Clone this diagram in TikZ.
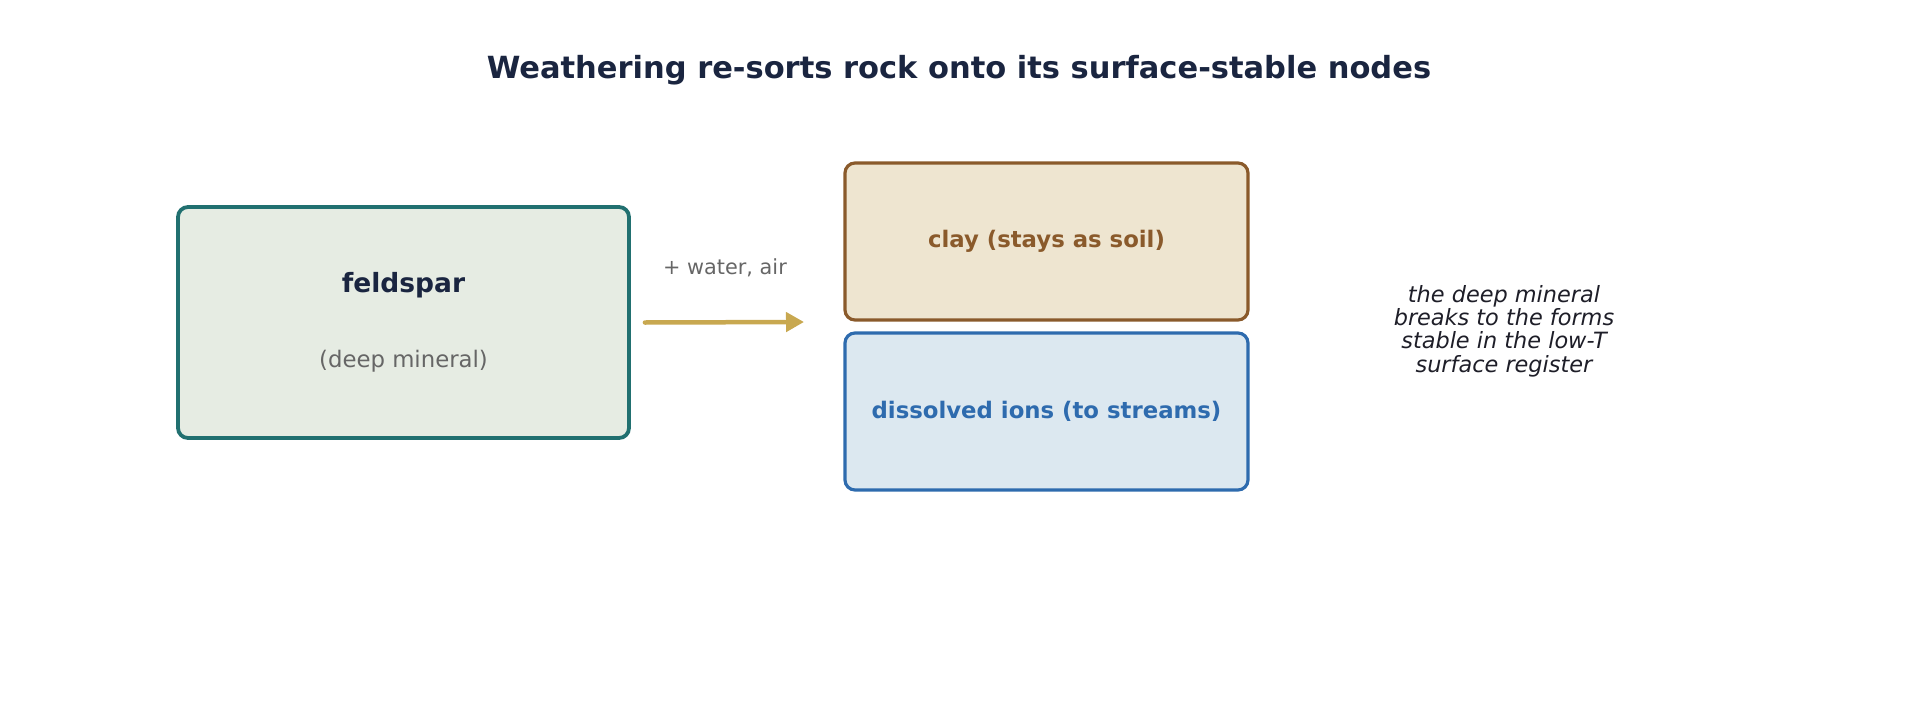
\documentclass[tikz,border=0pt]{standalone}
\usepackage{fontspec}
\setmainfont{DejaVu Sans}
\usetikzlibrary{arrows.meta}
\definecolor{navy}{HTML}{1A2540}
\definecolor{teal}{HTML}{217070}
\definecolor{tealfill}{HTML}{E6ECE3}
\definecolor{claybrown}{HTML}{8A5A2B}
\definecolor{clayfill}{HTML}{EEE5D0}
\definecolor{ionblue}{HTML}{2E6BAE}
\definecolor{ionfill}{HTML}{DCE8F0}
\definecolor{gold}{HTML}{C8A850}
\definecolor{softgray}{HTML}{666666}
\definecolor{inkdark}{HTML}{1E1E28}
\tikzset{
  box/.style={rounded corners=10pt,inner sep=0pt,line width=3.2pt},
  flow/.style={line width=4.5pt,line cap=round,color=gold,-{Triangle[length=18pt,width=19pt]}},
}
\begin{document}
\begin{tikzpicture}[x=1pt,y=-1pt]
  \useasboundingbox (0,0) rectangle (1920,720);
  % title
  \node[text=navy,font=\bfseries\fontsize{30.5}{36}\selectfont] (title) at (959,70.5) {Weathering re-sorts rock onto its surface-stable nodes};
  % deep mineral
  \node[box,draw=teal,fill=tealfill,line width=3.8pt,minimum width=451pt,minimum height=231pt] (feld) at (403.5,322.5) {};
  \node[text=navy,font=\bfseries\fontsize{26.5}{32}\selectfont] (feldname) at (403.5,285.5) {feldspar};
  \node[text=softgray,font=\fontsize{22.8}{27}\selectfont] (feldnote) at (403.5,361.5) {(deep mineral)};
  % surface products
  \node[box,draw=claybrown,fill=clayfill,minimum width=403pt,minimum height=157pt,text=claybrown,font=\bfseries\fontsize{22.8}{27}\selectfont] (clay) at (1046.5,241.5) {clay (stays as soil)};
  \node[box,draw=ionblue,fill=ionfill,minimum width=403pt,minimum height=157pt,text=ionblue,font=\bfseries\fontsize{22.8}{27}\selectfont] (ions) at (1046.5,411.5) {dissolved ions (to streams)};
  % reaction arrow
  \coordinate (split) at (804,322);
  \draw[flow] ([xshift=14pt]feld.east) -- (split);
  \node[text=softgray,font=\fontsize{20.8}{25}\selectfont] (agents) at (725,268) {+ water, air};
  % side note
  \node[text=inkdark,font=\itshape\fontsize{22.4}{23.4}\selectfont,align=center] (note) at (1504,331)
    {the deep mineral\\breaks to the forms\\stable in the low-T\\surface register};
\end{tikzpicture}
\end{document}
